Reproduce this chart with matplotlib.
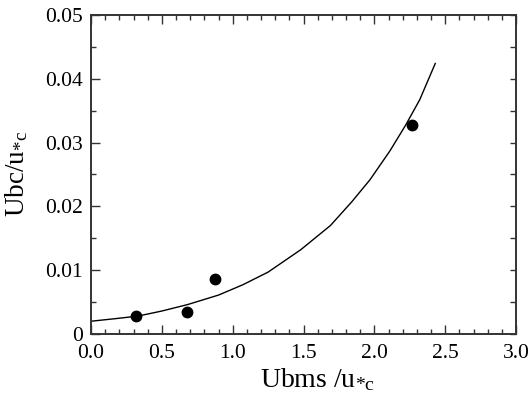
import matplotlib
matplotlib.use("Agg")
import matplotlib.pyplot as plt
from matplotlib.ticker import MultipleLocator

# measured points
ubms = [0.315, 0.678, 0.875, 2.268]
ubc = [0.0028, 0.0035, 0.0086, 0.0327]

# fitted curve
curve_x = [0.0, 0.17, 0.33, 0.50, 0.68, 0.90, 1.07, 1.25, 1.48, 1.69, 1.84, 1.97, 2.11, 2.22, 2.32, 2.43]
curve_y = [0.0020, 0.0024, 0.0028, 0.0036, 0.0046, 0.0061, 0.0077, 0.0097, 0.0132, 0.0170,
           0.0207, 0.0242, 0.0287, 0.0327, 0.0367, 0.0424]

xticks = [0.0, 0.5, 1.0, 1.5, 2.0, 2.5, 3.0]
xticklabels = ["0.0", "0.5", "1.0", "1.5", "2.0", "2.5", "3.0"]
yticks = [0.0, 0.01, 0.02, 0.03, 0.04, 0.05]
yticklabels = ["0", "0.01", "0.02", "0.03", "0.04", "0.05"]

plt.rcParams["font.family"] = ["Liberation Serif", "DejaVu Serif"]
plt.rcParams["mathtext.fontset"] = "custom"
plt.rcParams["mathtext.rm"] = "Liberation Serif"
plt.rcParams["mathtext.it"] = "Liberation Serif"

fig = plt.figure(figsize=(5.30, 4.01), dpi=100)
ax = fig.add_axes([0.1717, 0.1671, 0.8019, 0.7955])

ax.plot(curve_x, curve_y, color="black", linewidth=1.0)
ax.plot(ubms, ubc, linestyle="none", marker="o", markersize=7.5, color="black")

ax.set_xlim(0, 3.0)
ax.set_ylim(0, 0.05)
ax.set_xticks(xticks)
ax.set_xticklabels(xticklabels)
ax.set_yticks(yticks)
ax.set_yticklabels(yticklabels)
ax.xaxis.set_minor_locator(MultipleLocator(0.1))
ax.yaxis.set_minor_locator(MultipleLocator(0.005))

ax.tick_params(which="both", direction="in", top=True, right=False, labelsize=15.5, colors="#333333", labelcolor="black")
ax.tick_params(which="major", length=6.5, width=1.0)
ax.tick_params(which="minor", length=3.5, width=1.0)
ax.tick_params(axis="x", which="major", pad=7)
ax.tick_params(axis="y", which="major", pad=6)

# right side ticks are all one length
ax2 = ax.twinx()
ax2.set_ylim(0, 0.05)
ax2.yaxis.set_major_locator(MultipleLocator(0.005))
ax2.tick_params(direction="in", length=4.5, width=1.0, labelright=False, colors="#333333")

for a in (ax, ax2):
    for s in a.spines.values():
        s.set_color("#333333")
        s.set_linewidth(1.2)

ax.set_xlabel(r"Ubms /u$_{\mathregular{*c}}$", fontsize=20)
ax.xaxis.set_label_coords(0.533, -0.10)
ax.set_ylabel(r"Ubc/u$_{\mathregular{*c}}$", fontsize=19.5)
ax.yaxis.set_label_coords(-0.143, 0.50)

fig.savefig("out.png", dpi=100)
